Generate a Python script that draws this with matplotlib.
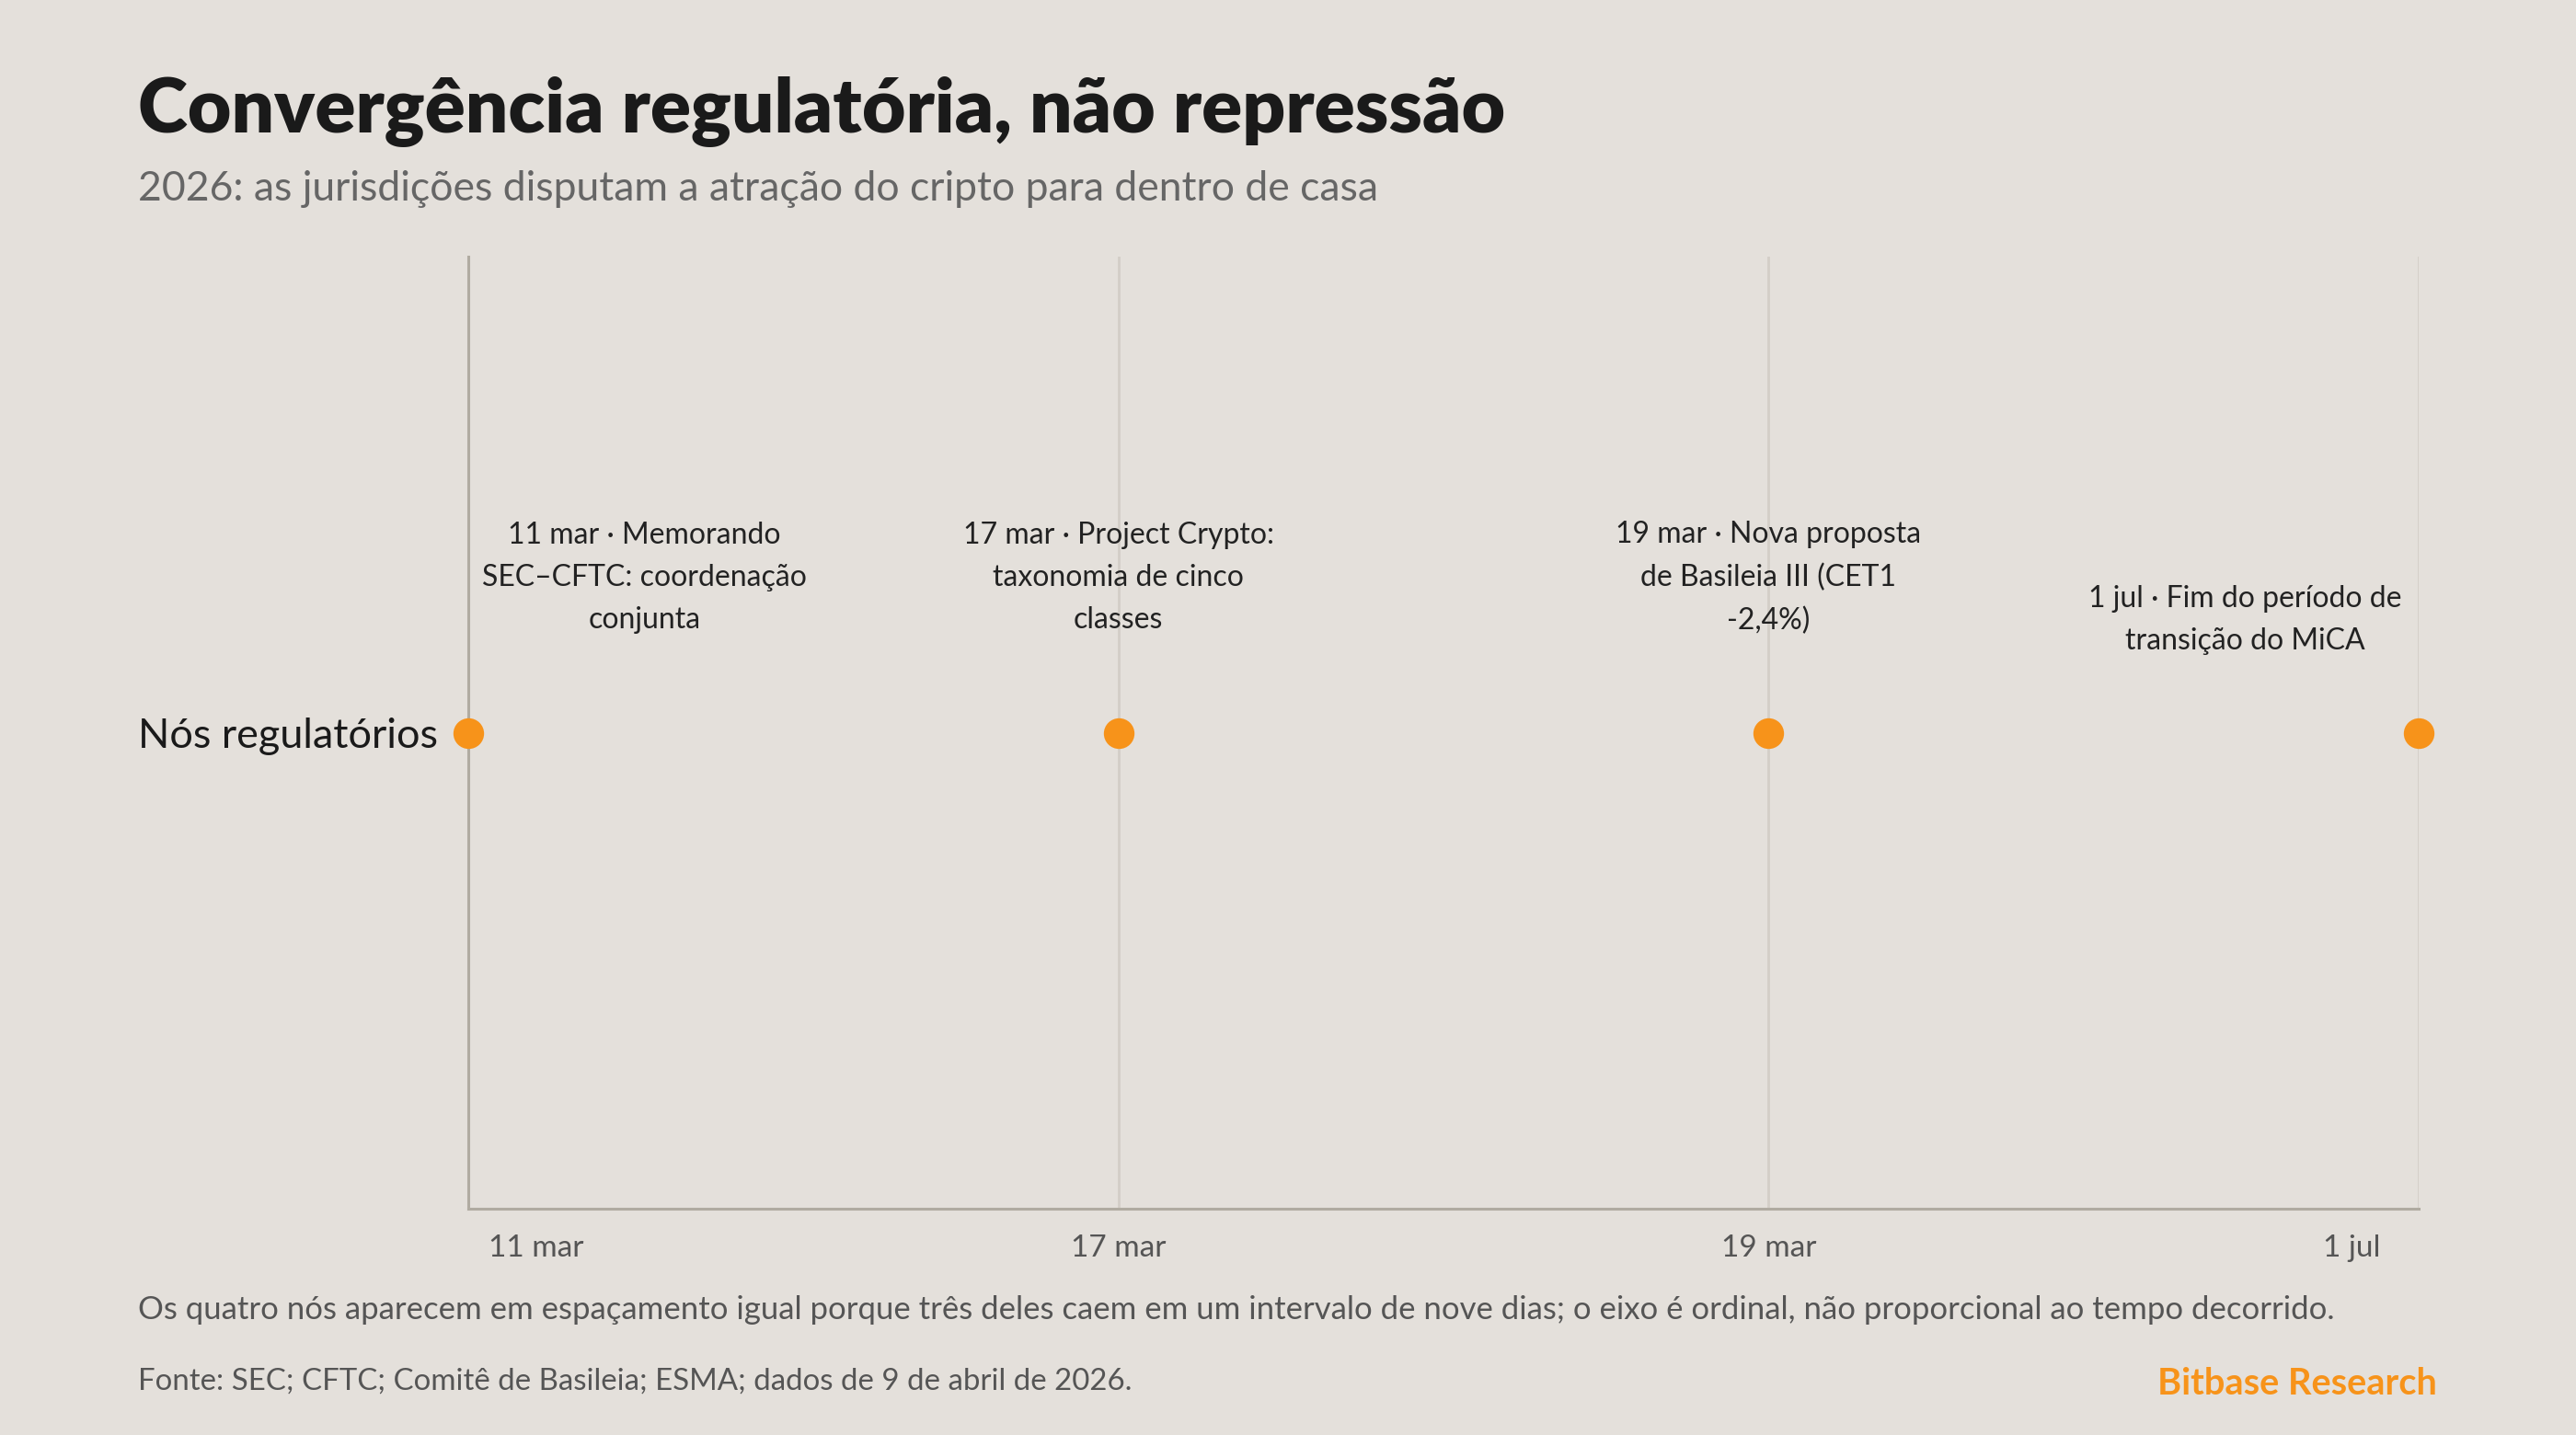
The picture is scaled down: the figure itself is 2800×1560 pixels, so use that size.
import matplotlib.pyplot as plt
from matplotlib.transforms import ScaledTranslation

# data
datas = ['11 mar', '17 mar', '19 mar', '1 jul']
eventos = [
    '11 mar · Memorando\nSEC–CFTC: coordenação\nconjunta',
    '17 mar · Project Crypto:\ntaxonomia de cinco\nclasses',
    '19 mar · Nova proposta\nde Basileia III (CET1\n-2,4%)',
    '1 jul · Fim do período de\ntransição do MiCA',
]
serie = 'Nós regulatórios'

titulo = 'Convergência regulatória, não repressão'
subtitulo = '2026: as jurisdições disputam a atração do cripto para dentro de casa'
nota = ('Os quatro nós aparecem em espaçamento igual porque três deles caem em um intervalo '
        'de nove dias; o eixo é ordinal, não proporcional ao tempo decorrido.')
fonte = 'Fonte: SEC; CFTC; Comitê de Basileia; ESMA; dados de 9 de abril de 2026.'
marca = 'Bitbase Research'

BG = '#E4E0DB'
LARANJA = '#F7931A'
plt.rcParams['font.family'] = ['Lato', 'DejaVu Sans']

fig = plt.figure(figsize=(14, 7.8), dpi=200, facecolor=BG)
ax = fig.add_axes([509 / 2800, 1 - 1314 / 1560, (2629 - 509) / 2800, (1314 - 279) / 1560])
ax.set_facecolor(BG)

x = list(range(len(datas)))
ax.plot(x, [0] * len(x), 'o', color=LARANJA, markersize=11, zorder=5, clip_on=False)
ax.set_xlim(0, len(datas) - 1)
ax.set_ylim(-1, 1)

for s in ['top', 'right']:
    ax.spines[s].set_visible(False)
for s in ['left', 'bottom']:
    ax.spines[s].set_color('#B0ABA1')
    ax.spines[s].set_linewidth(1.1)

ax.set_xticks(x)
ax.set_xticklabels(datas, fontsize=12, color='#555555')
ax.tick_params(axis='x', length=0, pad=10)
labs = ax.get_xticklabels()
labs[0].set_ha('left')
labs[0].set_transform(labs[0].get_transform() + ScaledTranslation(8 / 72, 0, fig.dpi_scale_trans))
labs[-1].set_ha('right')
labs[-1].set_transform(labs[-1].get_transform() + ScaledTranslation(-15 / 72, 0, fig.dpi_scale_trans))
ax.grid(axis='x', color='#D3CEC7', linewidth=1.0)
ax.set_axisbelow(True)

ax.set_yticks([0])
ax.set_yticklabels([serie], fontsize=16.2, color='#1A1A1A')
ax.tick_params(axis='y', length=0, pad=12)

n = len(eventos)
for i, txt in enumerate(eventos):
    linhas = txt.count('\n') + 1
    dy = 44 + (linhas - 2) * 16.6
    dx = 0
    if i == 0:
        dx = 69
    elif i == n - 1:
        dx = -68
    ax.annotate(txt, (i, 0), xytext=(dx, dy), textcoords='offset points',
                ha='center', va='center', fontsize=11.5, color='#222222',
                linespacing=1.68, multialignment='center')

fig.text(150 / 2800, 1 - 121 / 1560, titulo, fontsize=29.5, fontweight='heavy',
         color='#1A1A1A', va='center')
fig.text(150 / 2800, 1 - 205 / 1560, subtitulo, fontsize=16, color='#666666', va='center')
fig.text(150 / 2800, 1 - 1424 / 1560, nota, fontsize=12.5, color='#555555', va='center')
fig.text(150 / 2800, 1 - 1502 / 1560, fonte, fontsize=11.9, color='#555555', va='center')
fig.text(2649 / 2800, 1 - 1505 / 1560, marca, fontsize=14.3, fontweight='bold',
         color=LARANJA, va='center', ha='right')

fig.savefig('out.png', dpi=200, facecolor=BG)
